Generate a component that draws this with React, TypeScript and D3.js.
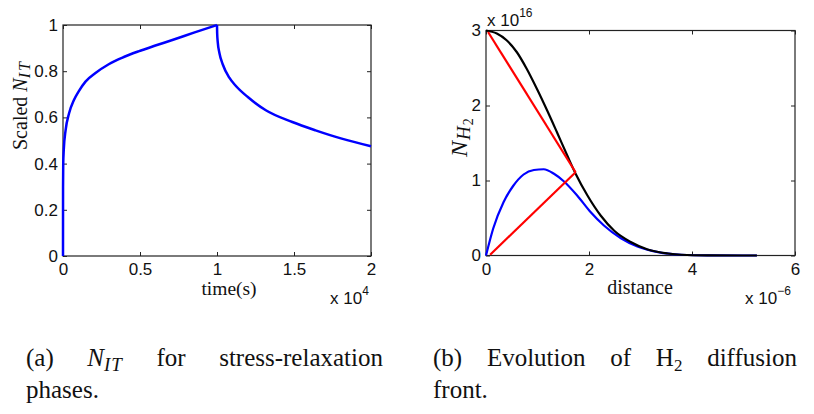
import React, { useEffect, useRef } from "react";
import * as d3 from "d3";

// (a) scaled N_IT, time in units of 1e4 s
const riseTime = [0, 0.0003, 0.0015, 0.005, 0.017, 0.039, 0.071, 0.103, 0.146, 0.211, 0.297, 0.383, 0.49, 0.6, 0.715, 0.85, 1.0];
const riseValue = [0, 0.3, 0.4, 0.46, 0.545, 0.617, 0.675, 0.714, 0.755, 0.792, 0.83, 0.858, 0.886, 0.911, 0.936, 0.967, 1.0];
const relaxTime = [1.0, 1.001, 1.005, 1.016, 1.037, 1.08, 1.12, 1.2, 1.317, 1.489, 1.64, 1.81, 2.0];
const relaxValue = [1.0, 0.965, 0.925, 0.878, 0.83, 0.772, 0.738, 0.688, 0.631, 0.58, 0.544, 0.508, 0.475];
const timeTicks = [0, 0.5, 1, 1.5, 2];
const scaledTicks = [0, 0.2, 0.4, 0.6, 0.8, 1];

// (b) N_H2 (1e16) vs distance (1e-6)
const totalDist = [0, 0.21, 0.4, 0.6, 0.79, 0.99, 1.19, 1.38, 1.58, 1.74, 1.97, 2.23, 2.49, 2.81, 3.14, 3.53, 3.79, 4.3, 5.26];
const totalH2 = [3, 2.96, 2.87, 2.71, 2.49, 2.22, 1.93, 1.64, 1.33, 1.09, 0.8, 0.53, 0.33, 0.18, 0.08, 0.027, 0.01, 0.002, 0];
const frontDist = [0, 0.14, 0.34, 0.53, 0.73, 0.93, 1.12, 1.32, 1.51, 1.77, 2.03, 2.29, 2.62, 2.94, 3.34, 3.79, 4.3, 5.26];
const frontH2 = [0, 0.36, 0.71, 0.93, 1.08, 1.14, 1.15, 1.09, 0.99, 0.8, 0.58, 0.4, 0.23, 0.12, 0.044, 0.01, 0.002, 0];
const slopeDownDist = [0.04, 1.74];
const slopeDownH2 = [2.98, 1.11];
const slopeUpDist = [0.08, 1.74];
const slopeUpH2 = [0.01, 1.11];
const distTicks = [0, 2, 4, 6];
const h2Ticks = [0, 1, 2, 3];

const SANS = "'Liberation Sans', Arial, Helvetica, sans-serif";
const SERIF = "'Liberation Serif', 'Times New Roman', serif";

const zip = (xs: number[], ys: number[]) => xs.map((v, i) => [v, ys[i]] as [number, number]);

function frame(svg: any, x: any, y: any, xTicks: number[], yTicks: number[]) {
  const [x0, x1] = x.range();
  const [y0, y1] = y.range();
  const fmt = d3.format("~g");
  const style = (g: any) => {
    g.select(".domain").remove();
    g.selectAll("line").attr("stroke", "#222");
    g.selectAll("text").attr("fill", "#111");
    g.attr("font-family", SANS).attr("font-size", 17);
  };

  svg.append("g").attr("transform", `translate(0,${y0})`)
    .call(d3.axisBottom(x).tickValues(xTicks).tickSizeInner(-4).tickSizeOuter(0).tickPadding(7).tickFormat(fmt))
    .call(style);
  svg.append("g").attr("transform", `translate(0,${y1})`)
    .call(d3.axisTop(x).tickValues(xTicks).tickSizeInner(-4).tickSizeOuter(0).tickFormat(() => ""))
    .call(style);
  svg.append("g").attr("transform", `translate(${x0},0)`)
    .call(d3.axisLeft(y).tickValues(yTicks).tickSizeInner(-4).tickSizeOuter(0).tickPadding(5).tickFormat(fmt))
    .call(style);
  svg.append("g").attr("transform", `translate(${x1},0)`)
    .call(d3.axisRight(y).tickValues(yTicks).tickSizeInner(-4).tickSizeOuter(0).tickFormat(() => ""))
    .call(style);

  svg.append("rect")
    .attr("x", x0).attr("y", y1)
    .attr("width", x1 - x0).attr("height", y0 - y1)
    .attr("fill", "none").attr("stroke", "#222").attr("stroke-width", 1.2);
}

function exponent(svg: any, xPos: number, yPos: number, power: string) {
  const t = svg.append("text").attr("x", xPos).attr("y", yPos)
    .attr("font-family", SANS).attr("font-size", 17).attr("fill", "#111");
  t.append("tspan").text("x 10");
  t.append("tspan").attr("font-size", 12).attr("dy", -9).text(power);
}

// spread caption words between left and right like justified text
function justify(words: any[], left: number, right: number) {
  const widths = words.map((w) => (w.node() as SVGTextElement).getComputedTextLength());
  const gap = (right - left - d3.sum(widths)) / (words.length - 1);
  let pos = left;
  words.forEach((w, i) => {
    w.attr("x", pos);
    pos += widths[i] + gap;
  });
}

const App = () => {
  const svgRef = useRef<SVGSVGElement>(null);

  useEffect(() => {
    const svg = d3.select(svgRef.current);
    svg.selectAll("*").remove();

    // ----- panel (a)
    const xa = d3.scaleLinear().domain([0, 2]).range([63, 371]);
    const ya = d3.scaleLinear().domain([0, 1]).range([256, 25]);
    frame(svg, xa, ya, timeTicks, scaledTicks);

    const lineA = d3.line<[number, number]>()
      .x((d) => xa(d[0])).y((d) => ya(d[1]))
      .curve(d3.curveMonotoneX);
    [zip(riseTime, riseValue), zip(relaxTime, relaxValue)].forEach((pts) => {
      svg.append("path").attr("d", lineA(pts))
        .attr("fill", "none").attr("stroke", "#0000ff")
        .attr("stroke-width", 2.5).attr("stroke-linejoin", "round");
    });

    svg.append("text").attr("x", 229).attr("y", 295).attr("text-anchor", "middle")
      .attr("font-family", SERIF).attr("font-size", 19.5).attr("fill", "#111").text("time(s)");
    exponent(svg, 330, 304, "4");

    const yla = svg.append("text").attr("transform", "translate(27,150) rotate(-90)")
      .attr("font-family", SERIF).attr("font-size", 20).attr("fill", "#111");
    yla.append("tspan").text("Scaled ");
    yla.append("tspan").attr("font-style", "italic").text("N");
    yla.append("tspan").attr("font-style", "italic").attr("font-size", 16)
      .attr("dy", 3).attr("letter-spacing", 2).text("IT");

    // ----- panel (b)
    const xb = d3.scaleLinear().domain([0, 6]).range([486, 795]);
    const yb = d3.scaleLinear().domain([0, 3]).range([255.5, 30.5]);
    frame(svg, xb, yb, distTicks, h2Ticks);

    const lineB = d3.line<[number, number]>()
      .x((d) => xb(d[0])).y((d) => yb(d[1]))
      .curve(d3.curveMonotoneX);
    const curves: [[number, number][], string][] = [
      [zip(frontDist, frontH2), "#0000ff"],
      [zip(totalDist, totalH2), "#000000"],
      [zip(slopeDownDist, slopeDownH2), "#ff0000"],
      [zip(slopeUpDist, slopeUpH2), "#ff0000"],
    ];
    curves.forEach(([pts, color]) => {
      svg.append("path").attr("d", lineB(pts))
        .attr("fill", "none").attr("stroke", color)
        .attr("stroke-width", 2.2).attr("stroke-linejoin", "round");
    });

    svg.append("text").attr("x", 640).attr("y", 294).attr("text-anchor", "middle")
      .attr("font-family", SERIF).attr("font-size", 20).attr("fill", "#111").text("distance");
    exponent(svg, 745, 304, "\u22126");
    exponent(svg, 487, 26, "16");

    const ylb = svg.append("text").attr("transform", "translate(467,157) rotate(-90)")
      .attr("font-family", SERIF).attr("font-size", 24).attr("font-style", "italic").attr("fill", "#111");
    ylb.append("tspan").text("N");
    ylb.append("tspan").attr("font-size", 19).attr("dx", 1).attr("dy", 3).text("H");
    ylb.append("tspan").attr("font-size", 14).attr("font-style", "normal").attr("dx", 1).attr("dy", 3).text("2");

    // ----- captions
    const cap = (yPos: number) =>
      svg.append("text").attr("x", 0).attr("y", yPos)
        .attr("font-family", SERIF).attr("font-size", 25).attr("fill", "#111");

    const a1 = cap(366).text("(a)");
    const a2 = cap(366).attr("font-style", "italic");
    a2.append("tspan").text("N");
    a2.append("tspan").attr("font-size", 19).attr("dy", 5).attr("letter-spacing", 1).text("IT");
    const a3 = cap(366).text("for");
    const a4 = cap(366).text("stress-relaxation");
    justify([a1, a2, a3, a4], 26, 383);
    cap(398).attr("x", 26).text("phases.");

    const b1 = cap(366).text("(b)");
    const b2 = cap(366).text("Evolution");
    const b3 = cap(366).text("of");
    const b4 = cap(366);
    b4.append("tspan").text("H");
    b4.append("tspan").attr("font-size", 17).attr("dy", 5).text("2");
    const b5 = cap(366).text("diffusion");
    justify([b1, b2, b3, b4, b5], 433, 797);
    cap(398).attr("x", 433).text("front.");
  }, []);

  return (
    <svg
      ref={svgRef}
      width={814}
      height={414}
      style={{ position: "absolute", left: 0, top: 0, background: "#fff" }}
    />
  );
};

export default App;
